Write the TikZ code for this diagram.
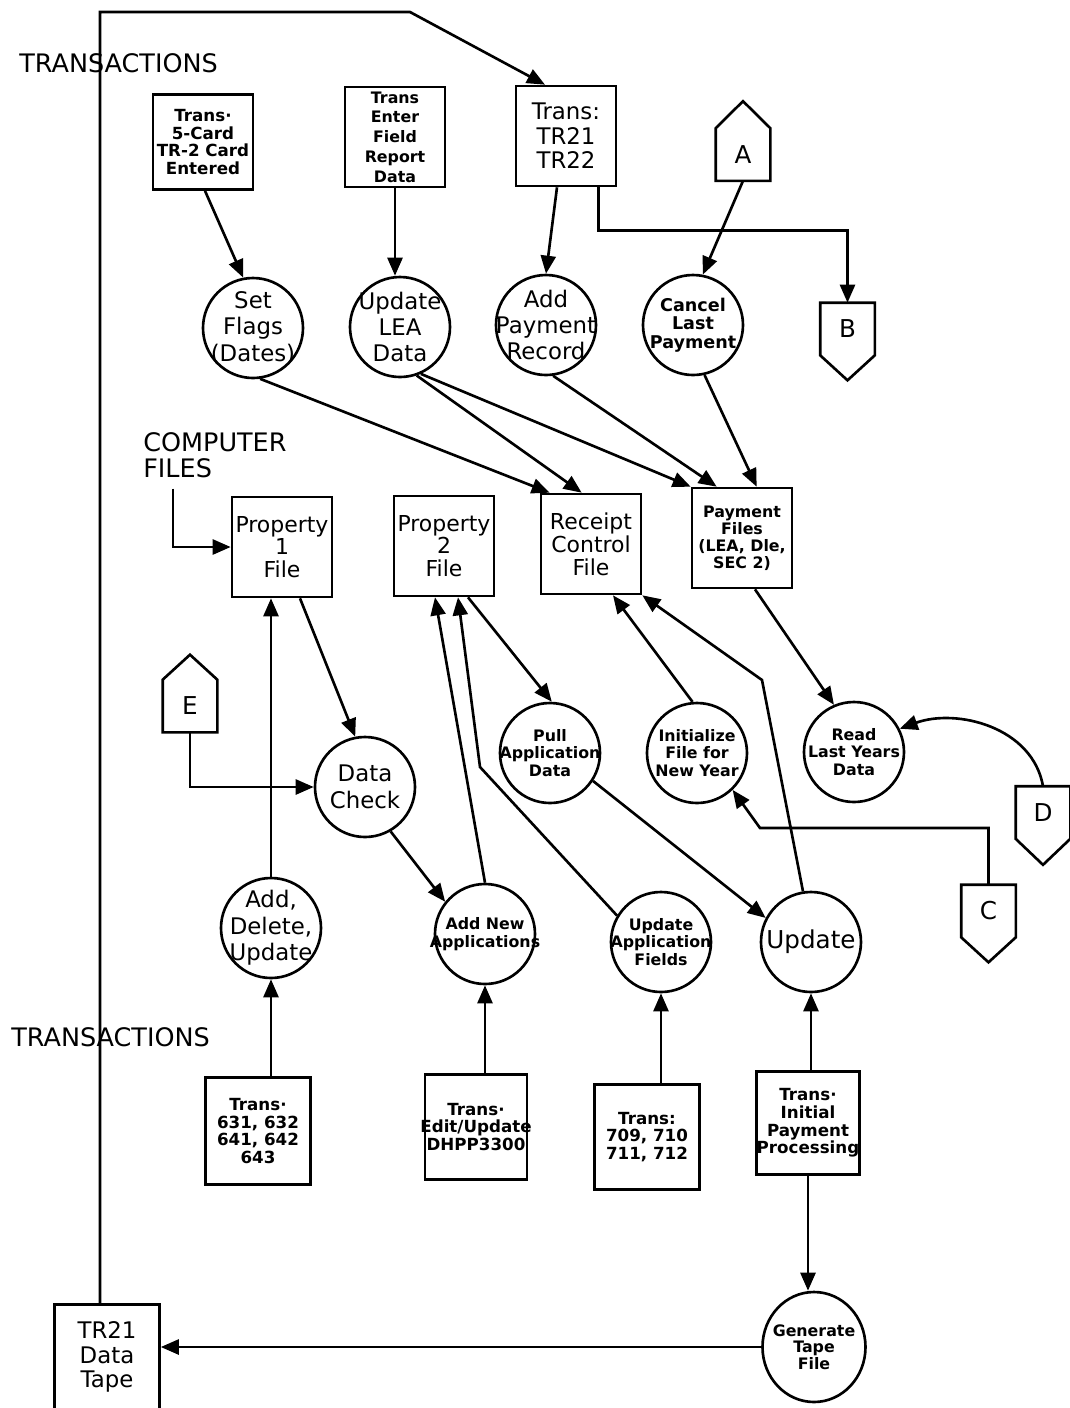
\documentclass[tikz,border=0pt]{standalone}
\usepackage{fontspec}
\setmainfont{DejaVu Sans}
\usetikzlibrary{arrows.meta,shapes.geometric}

\begin{document}
\begin{tikzpicture}[
    line width=1.5pt,
    arr/.style={-{Triangle[length=0.36cm,width=0.3cm]}},
    store/.style={draw, rectangle, minimum width=2cm, minimum height=2cm, inner sep=-3pt, align=center},
    proc/.style={draw, circle, minimum size=2cm, inner sep=-8pt, align=center},
    offpage/.style={minimum width=1.04cm, minimum height=1cm, inner sep=0pt, font=\fontsize{14}{14}\selectfont},
    bigtxt/.style={font=\fontsize{13}{15}\selectfont},
    smalltxt/.style={font=\bfseries\fontsize{9}{10}\selectfont},
    boxtxt/.style={font=\bfseries\fontsize{9.5}{10}\selectfont},
    heading/.style={anchor=west, align=left, inner sep=0pt, font=\fontsize{14.5}{14.5}\selectfont}
]
    \useasboundingbox (0,0) rectangle (21.4,-28.16);

    % Titulos
    \node[heading] (transtop) at (0.36,-1.26) {TRANSACTIONS};
    \node[heading] (compfiles) at (2.84,-9.1) {COMPUTER\\FILES};
    \node[heading] (transbot) at (0.2,-20.74) {TRANSACTIONS};

    % Transacoes de cima
    \node[store, boxtxt, minimum height=1.9cm] (tr5card) at (4.06,-2.84) {Trans·\\5-Card\\TR-2 Card\\Entered};
    \node[store, font=\bfseries\fontsize{9}{11.2}\selectfont] (trfield) at (7.9,-2.74) {Trans\\Enter\\Field\\Report\\Data};
    \node[store, font=\fontsize{13}{14}\selectfont] (trtr21) at (11.32,-2.72) {Trans:\\TR21\\TR22};

    % Conectores de pagina
    \node[offpage] (pA) at (14.86,-3.09) {A};
    \draw (pA.south west) -- (pA.south east) -- (pA.north east) -- ([yshift=0.54cm]pA.north) -- (pA.north west) -- cycle;
    \node[offpage] (pB) at (16.95,-6.58) {B};
    \draw (pB.north west) -- (pB.north east) -- (pB.south east) -- ([yshift=-0.5cm]pB.south) -- (pB.south west) -- cycle;
    \node[offpage] (pE) at (3.8,-14.12) {E};
    \draw (pE.south west) -- (pE.south east) -- (pE.north east) -- ([yshift=0.5cm]pE.north) -- (pE.north west) -- cycle;
    \node[offpage] (pD) at (20.86,-16.25) {D};
    \draw (pD.north west) -- (pD.north east) -- (pD.south east) -- ([yshift=-0.52cm]pD.south) -- (pD.south west) -- cycle;
    \node[offpage] (pC) at (19.77,-18.22) {C};
    \draw (pC.north west) -- (pC.north east) -- (pC.south east) -- ([yshift=-0.5cm]pC.south) -- (pC.south west) -- cycle;

    % Processos
    \node[proc, bigtxt] (setflags) at (5.06,-6.56) {Set\\Flags\\(Dates)};
    \node[proc, bigtxt] (updlea) at (8.0,-6.54) {Update\\LEA\\Data};
    \node[proc, bigtxt] (addpay) at (10.92,-6.5) {Add\\Payment\\Record};
    \node[proc, font=\bfseries\fontsize{10}{10.5}\selectfont] (cancel) at (13.86,-6.5) {Cancel\\Last\\Payment};

    % Arquivos
    \node[store, font=\fontsize{12.5}{13}\selectfont] (prop1) at (5.64,-10.94) {Property\\1\\File};
    \node[store, font=\fontsize{12.5}{13}\selectfont] (prop2) at (8.88,-10.92) {Property\\2\\File};
    \node[store, font=\fontsize{12.5}{13}\selectfont] (receipt) at (11.82,-10.88) {Receipt\\Control\\File};
    \node[store, font=\bfseries\fontsize{9}{9.7}\selectfont] (payfiles) at (14.84,-10.76) {Payment\\Files\\(LEA, Dle,\\SEC 2)};

    \node[proc, bigtxt] (datacheck) at (7.3,-15.74) {Data\\Check};
    \node[proc, smalltxt] (pull) at (11.0,-15.06) {Pull\\Application\\Data};
    \node[proc, smalltxt] (init) at (13.94,-15.06) {Initialize\\File for\\New Year};
    \node[proc, smalltxt] (read) at (17.08,-15.04) {Read\\Last Years\\Data};

    \node[proc, bigtxt] (adu) at (5.42,-18.56) {Add,\\Delete,\\Update};
    \node[proc, smalltxt] (addnew) at (9.7,-18.68) {Add New\\Applications};
    \node[proc, smalltxt] (updfields) at (13.22,-18.84) {Update\\Application\\Fields};
    \node[proc, font=\fontsize{14}{14}\selectfont] (update) at (16.22,-18.84) {Update};

    % Transacoes de baixo
    \node[store, boxtxt, minimum width=2.1cm, minimum height=2.14cm] (tr631) at (5.16,-22.62) {Trans·\\631, 632\\641, 642\\643};
    \node[store, boxtxt, minimum width=2.04cm, minimum height=2.1cm] (tredit) at (9.52,-22.54) {Trans·\\Edit/Update\\DHPP3300};
    \node[store, boxtxt, minimum width=2.1cm, minimum height=2.1cm] (tr709) at (12.94,-22.74) {Trans:\\709, 710\\711, 712};
    \node[store, boxtxt, minimum width=2.06cm, minimum height=2.06cm] (trinit) at (16.16,-22.46) {Trans·\\Initial\\Payment\\Processing};

    \node[draw, ellipse, minimum width=2.06cm, minimum height=2.2cm, inner sep=-6pt, align=center, font=\bfseries\fontsize{9}{9.5}\selectfont] (gentape) at (16.28,-26.94) {Generate\\Tape\\File};
    \node[store, font=\fontsize{13}{14}\selectfont, minimum width=2.1cm, minimum height=2.1cm] (datatape) at (2.14,-27.14) {TR21\\Data\\Tape};

    % Fluxos de cima
    \draw[arr] ([xshift=0.04cm]tr5card.south) -- (setflags.101);
    \draw[arr] (trfield.south) -- (trfield.south |- updlea.north);
    \draw[arr] ([xshift=-0.18cm]trtr21.south) -- (addpay.north);
    \draw[arr] ([xshift=-0.38cm]trtr21.south east) -- ++(0,-0.86) -| (pB.north);
    \draw[arr] (pA.south) -- (cancel.79);
    \draw[arr] (setflags.-82) -- ([xshift=0.2cm]receipt.north west);
    \draw[arr] (updlea.-71) -- ([xshift=0.84cm]receipt.north west);
    \draw[arr] (updlea.-66) -- (payfiles.north west);
    \draw[arr] (addpay.-82) -- ([xshift=0.52cm]payfiles.north west);
    \draw[arr] (cancel.-77) -- ([xshift=1.32cm]payfiles.north west);

    % Fluxos do meio
    \draw[arr] ([xshift=0.62cm,yshift=-0.2cm]compfiles.south west) |- (prop1.west);
    \draw[arr] ([xshift=0.36cm]prop1.south) -- (datacheck.101);
    \draw[arr] (pE.south) |- (datacheck.west);
    \draw[arr] (adu.north) -- (adu.north |- prop1.south);
    \draw[arr] (datacheck.-60) -- (addnew.141);
    \draw[arr] (addnew.north) -- ([xshift=-0.18cm]prop2.south);
    \draw[arr] (updfields.149) -- (9.6,-15.34) -- ([xshift=0.28cm]prop2.south);
    \draw[arr] ([xshift=0.48cm]prop2.south) -- (pull.88);
    \draw[arr] (pull.-33) -- (update.152);
    \draw[arr] (init.95) -- ([xshift=0.44cm]receipt.south);
    \draw[arr] (update.99) -- (15.24,-13.6) -- (receipt.south east);
    \draw[arr] ([xshift=0.26cm]payfiles.south) -- (read.113);
    \draw[arr] (pD.north) to[out=100,in=20] (read.27);
    \draw[arr] (pC.north) |- (15.2,-16.56) -- (init.-46);

    % Fluxos de baixo
    \draw[arr] (tr631.north -| adu.south) -- (adu.south);
    \draw[arr] (tredit.north -| addnew.south) -- (addnew.south);
    \draw[arr] (tr709.north -| updfields.south) -- (updfields.south);
    \draw[arr] (trinit.north -| update.south) -- (update.south);
    \draw[arr] (trinit.south) -- (trinit.south |- gentape.north);
    \draw[arr] (gentape.west) -- (gentape.west -| datatape.east);
    \draw[arr] ([xshift=-0.14cm]datatape.north) |- (8.2,-0.24) -- ([xshift=-0.42cm]trtr21.north);
\end{tikzpicture}
\end{document}
